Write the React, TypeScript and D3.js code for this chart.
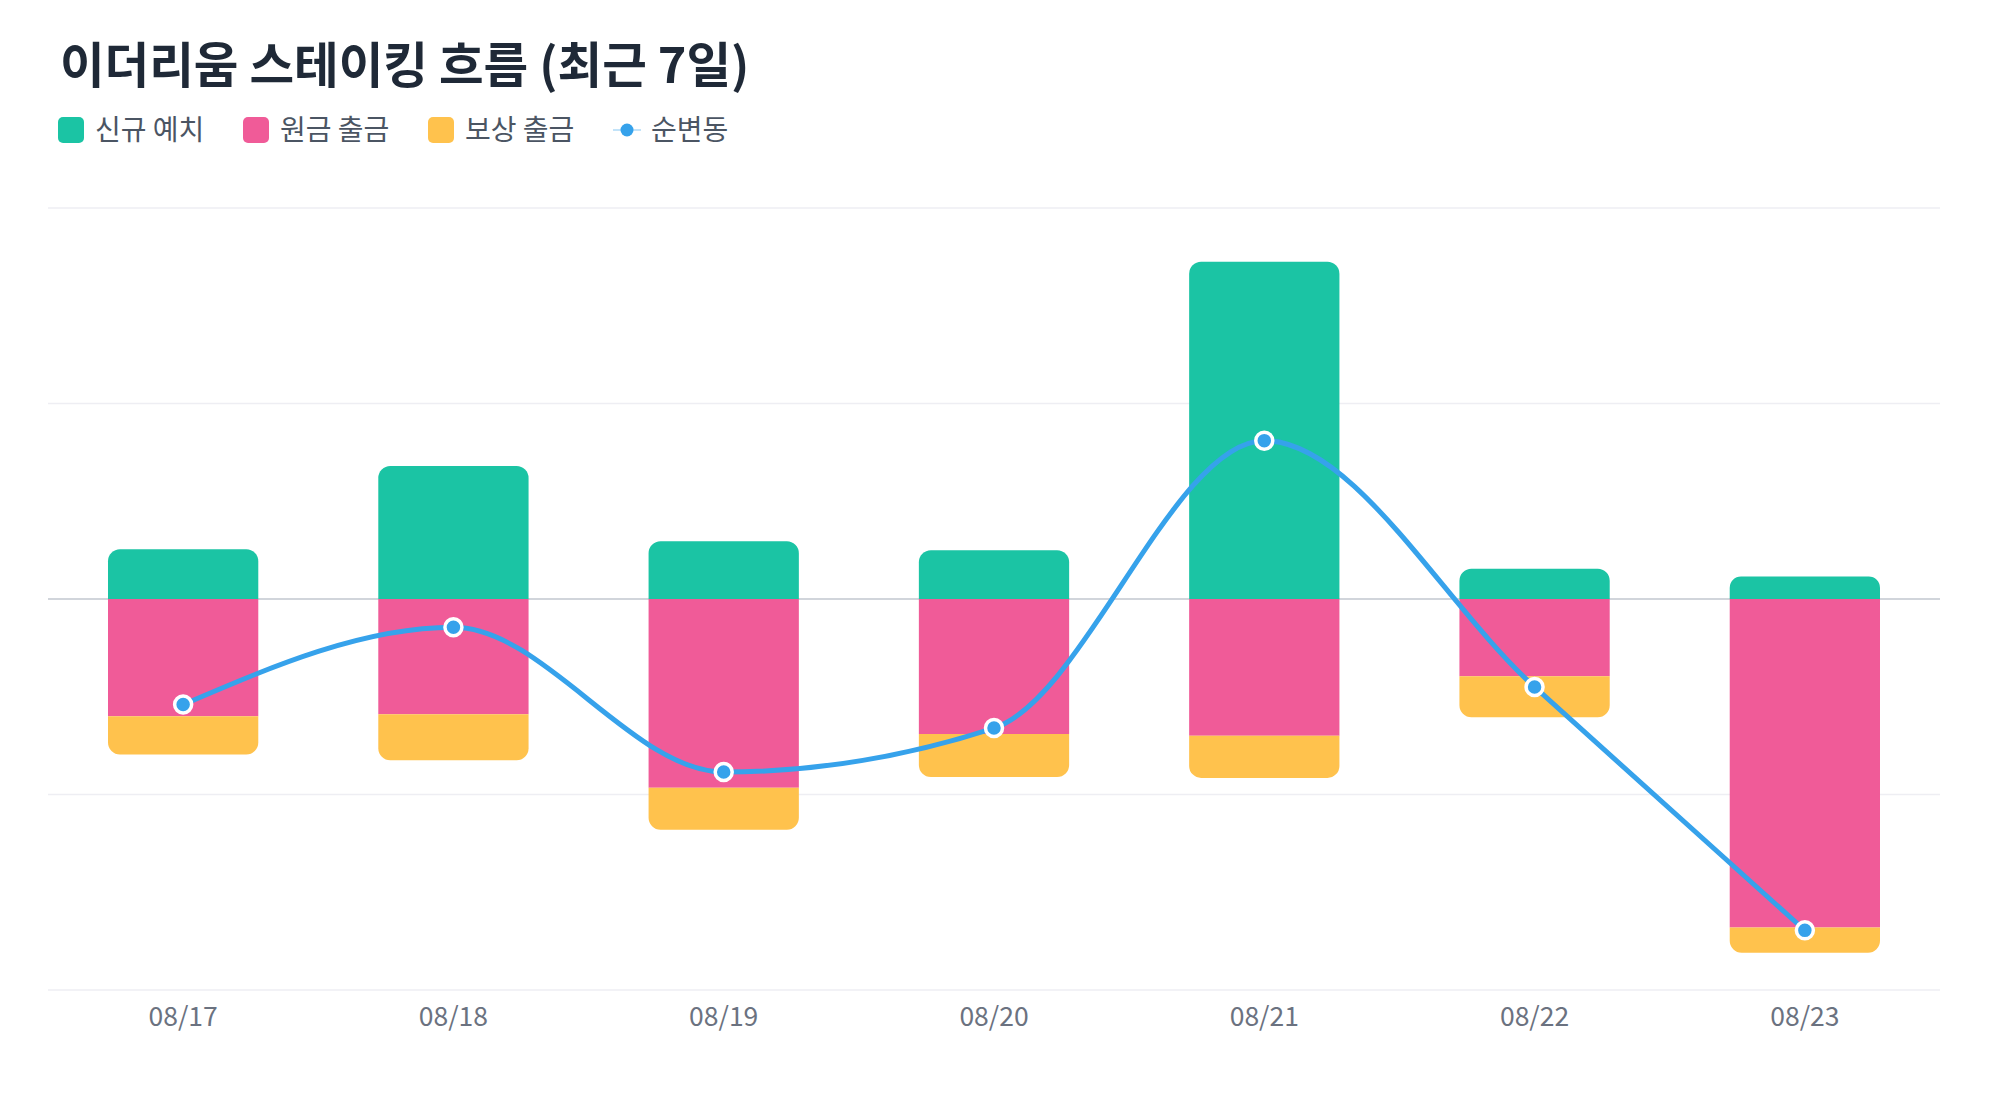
import { curveMonotoneX, line, scaleBand, scaleLinear } from "d3";

// 일별 스테이킹 흐름 (ETH)
const dates = ["08/17", "08/18", "08/19", "08/20", "08/21", "08/22", "08/23"];
const deposits = [5100, 13600, 5900, 5000, 34500, 3100, 2300];
const principalOut = [12000, 11800, 19300, 13800, 14000, 7900, 33600];
const rewardOut = [3900, 4700, 4300, 4400, 4300, 4200, 2600];
const yTicks = [-40000, -20000, 0, 20000, 40000];

const seriesLabels = ["신규 예치", "원금 출금", "보상 출금", "순변동"];
const colors = ["#1bc4a4", "#f05b98", "#ffc24d", "#36a2eb"];

const FONT = "'Noto Sans CJK KR', 'Noto Sans', sans-serif";

type Seg = { x: number; w: number; top: number; bottom: number; rTop: number; rBottom: number };

function segPath({ x, w, top, bottom, rTop, rBottom }: Seg) {
  const h = bottom - top;
  const rt = Math.min(rTop, h / 2, w / 2);
  const rb = Math.min(rBottom, h / 2, w / 2);
  return [
    `M${x},${top + rt}`,
    rt ? `A${rt},${rt} 0 0 1 ${x + rt},${top}` : "",
    `L${x + w - rt},${top}`,
    rt ? `A${rt},${rt} 0 0 1 ${x + w},${top + rt}` : "",
    `L${x + w},${bottom - rb}`,
    rb ? `A${rb},${rb} 0 0 1 ${x + w - rb},${bottom}` : "",
    `L${x + rb},${bottom}`,
    rb ? `A${rb},${rb} 0 0 1 ${x},${bottom - rb}` : "",
    "Z",
  ].join(" ");
}

export default function App() {
  const width = 2000;
  const height = 1120;
  const plot = { left: 48, right: 1940, top: 208, bottom: 990 };

  const x = scaleBand<string>()
    .domain(dates)
    .range([plot.left, plot.right])
    .paddingInner(0.444)
    .paddingOuter(0.222);

  const y = scaleLinear()
    .domain([yTicks[0], yTicks[yTicks.length - 1]])
    .range([plot.bottom, plot.top]);

  const net = dates.map((_, i) => deposits[i] - principalOut[i] - rewardOut[i]);
  const radius = 12;

  const bars = dates.map((d, i) => {
    const bx = x(d) ?? 0;
    const w = x.bandwidth();
    const pBottom = -principalOut[i];
    const rBottom = pBottom - rewardOut[i];
    return [
      { key: "dep", fill: colors[0], seg: { x: bx, w, top: y(deposits[i]), bottom: y(0), rTop: radius, rBottom: 0 } },
      { key: "pri", fill: colors[1], seg: { x: bx, w, top: y(0), bottom: y(pBottom), rTop: 0, rBottom: 0 } },
      { key: "rew", fill: colors[2], seg: { x: bx, w, top: y(pBottom), bottom: y(rBottom), rTop: 0, rBottom: radius } },
    ];
  });

  const cx = (d: string) => (x(d) ?? 0) + x.bandwidth() / 2;
  const netLine = line<number>()
    .x((_, i) => cx(dates[i]))
    .y((v) => y(v))
    .curve(curveMonotoneX);

  const legendX = [58, 243, 428, 613];

  return (
    <svg
      width={width}
      height={height}
      viewBox={`0 0 ${width} ${height}`}
      style={{ position: "absolute", left: 0, top: 0, background: "#fff" }}
      fontFamily={FONT}
    >
      <text x={60} y={83} fontSize={48.5} fontWeight={700} fill="#1f2937">
        이더리움 스테이킹 흐름 (최근 7일)
      </text>

      <g>
        {seriesLabels.map((label, i) => {
          const lx = legendX[i];
          return (
            <g key={label}>
              {i < 3 ? (
                <rect x={lx} y={117} width={26} height={26} rx={5} fill={colors[i]} />
              ) : (
                <g>
                  <line x1={lx} x2={lx + 28} y1={130} y2={130} stroke={colors[3]} strokeWidth={2} strokeOpacity={0.3} />
                  <circle cx={lx + 14} cy={130} r={6.5} fill={colors[3]} />
                </g>
              )}
              <text
                x={i < 3 ? lx + 37 : lx + 38}
                y={130}
                dy="0.35em"
                fontSize={28}
                fill="#4b5563"
              >
                {label}
              </text>
            </g>
          );
        })}
      </g>

      <g>
        {yTicks.map((t) => (
          <line
            key={t}
            x1={plot.left}
            x2={plot.right}
            y1={y(t)}
            y2={y(t)}
            stroke={t === 0 ? "#d1d5db" : "#eeeef3"}
            strokeWidth={t === 0 ? 2 : 1.5}
          />
        ))}
      </g>

      <g>
        {bars.map((group, i) =>
          group.map((b) => <path key={`${dates[i]}-${b.key}`} d={segPath(b.seg)} fill={b.fill} />),
        )}
      </g>

      <path d={netLine(net) ?? ""} fill="none" stroke={colors[3]} strokeWidth={5} />
      <g>
        {net.map((v, i) => (
          <circle key={dates[i]} cx={cx(dates[i])} cy={y(v)} r={8.5} fill={colors[3]} stroke="#fff" strokeWidth={3.5} />
        ))}
      </g>

      <g>
        {dates.map((d) => (
          <text key={d} x={cx(d)} y={1017} dy="0.35em" textAnchor="middle" fontSize={26.5} fill="#6b7280">
            {d}
          </text>
        ))}
      </g>
    </svg>
  );
}
